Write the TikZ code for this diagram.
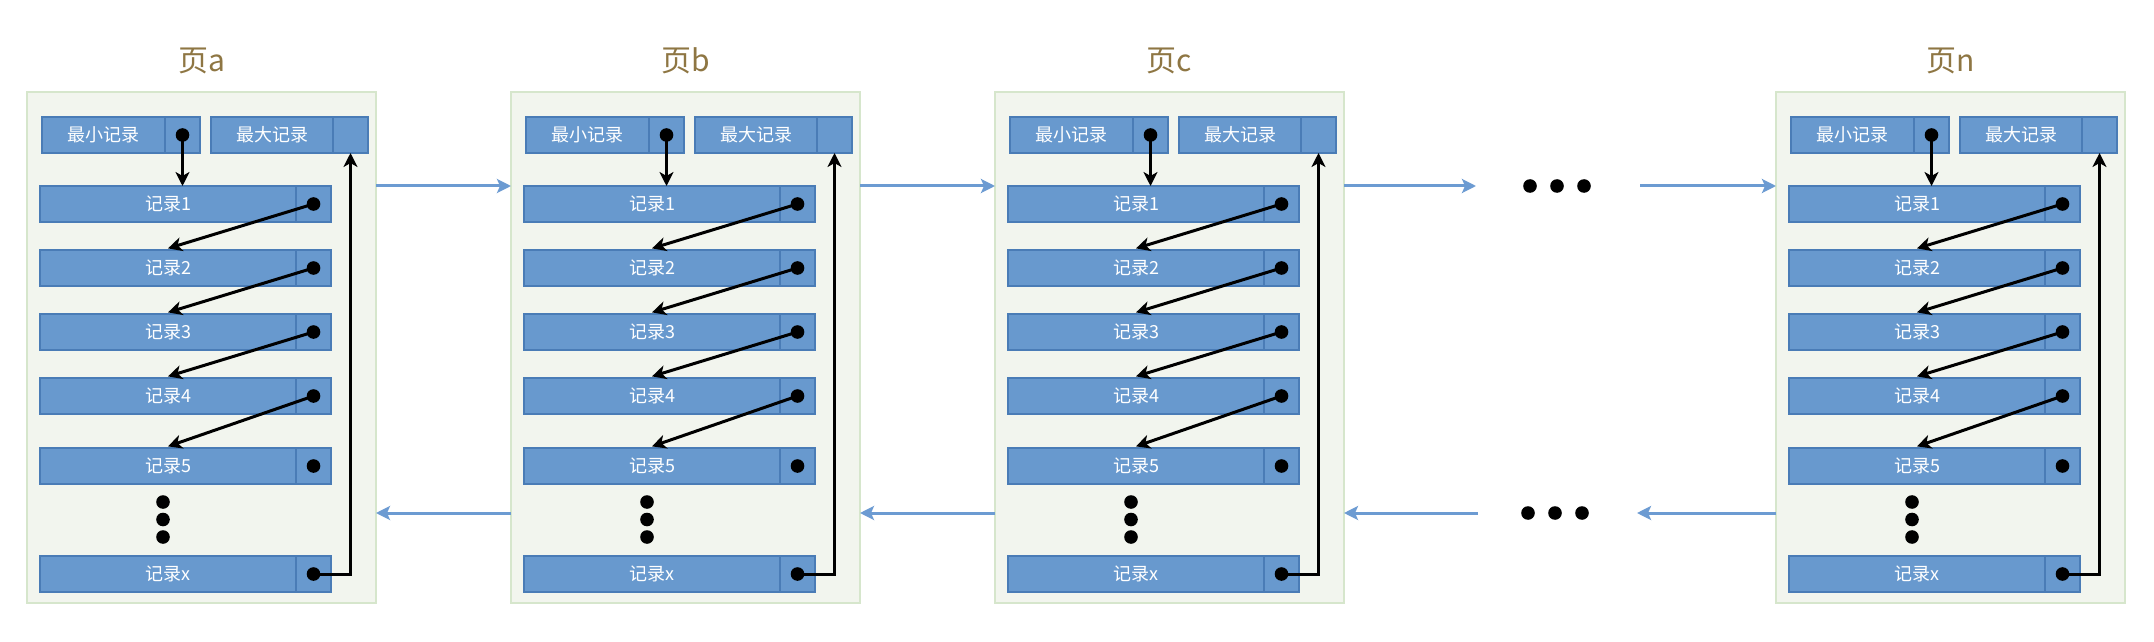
\documentclass[tikz,border=0pt]{standalone}
\usepackage{fontspec}
\newfontfamily\cjk{Noto Sans CJK SC}
\usetikzlibrary{arrows.meta}
\definecolor{pagefill}{HTML}{F2F5EE}
\definecolor{pageborder}{HTML}{D6E6CC}
\definecolor{cellfill}{HTML}{6899CE}
\definecolor{cellborder}{HTML}{4A7CB6}
\definecolor{arrowblue}{HTML}{6C9BD2}
\definecolor{titlecolor}{HTML}{8E7643}
\tikzset{
  pagebox/.style={draw=pageborder, fill=pagefill, line width=1pt, minimum width=174.5pt, minimum height=255.5pt, anchor=north west, inner sep=0pt, outer sep=0pt},
  cellbase/.style={draw=cellborder, fill=cellfill, line width=0.6pt, text=white, font=\cjk\fontsize{9}{10}\selectfont, minimum height=18pt, anchor=north west, inner sep=0pt, outer sep=0pt},
  reccell/.style={cellbase, minimum width=128pt},
  hdcell/.style={cellbase, minimum width=61.5pt},
  ptrcell/.style={cellbase, minimum width=17.5pt},
  ptrdot/.style={circle, fill=black, draw=none, minimum size=6.8pt, inner sep=0pt},
  smalldot/.style={circle, fill=black, draw=none, minimum size=6.8pt, inner sep=0pt},
  link/.style={-{Stealth[length=7pt,width=7pt,inset=2pt]}, line width=1.5pt, black},
  blink/.style={-{Stealth[length=7pt,width=7pt,inset=1.5pt]}, line width=1.5pt, arrowblue},
  pagetitle/.style={font=\cjk\fontsize{15}{17}\selectfont, text=titlecolor, inner sep=0pt}
}
\newcommand{\drawpage}[3]{%
  \node[pagebox] (#1) at (#2,92) {};
  \node[pagetitle] (#1-t) at ({#2+174.5},61) {页#3};
  \node[hdcell] (#1-minL) at ({#2+15},117) {最小记录};
  \node[ptrcell] (#1-minP) at ({#2+138},117) {};
  \node[hdcell, minimum width=61pt] (#1-maxL) at ({#2+184},117) {最大记录};
  \node[ptrcell] (#1-maxP) at ({#2+306},117) {};
  \node[ptrdot] (#1-mind) at (#1-minP.center) {};
  \foreach \i/\y/\lab in {1/186/1, 2/250/2, 3/314/3, 4/378/4, 5/448/5, x/556/x}{
    \node[reccell] (#1-r\i L) at ({#2+13},\y) {记录\lab};
    \node[ptrcell] (#1-r\i P) at ({#2+269},\y) {};
    \node[ptrdot] (#1-r\i d) at (#1-r\i P.center) {};
  }
  \node[smalldot] (#1-v1) at ({#2+136},502) {};
  \node[smalldot] (#1-v2) at ({#2+136},519.5) {};
  \node[smalldot] (#1-v3) at ({#2+136},537) {};
  \draw[link] (#1-mind.center) -- (#1-mind |- #1-r1L.north);
  \foreach \i/\j in {1/2, 2/3, 3/4, 4/5}{
    \draw[link] (#1-r\i d.center) -- ([yshift=0.8pt]#1-r\j L.north);
  }
  \draw[link] (#1-rxd.center) -| (#1-maxP.south);
  \coordinate (#1-hi) at (#2,186);
  \coordinate (#1-lo) at (#2,513);
}
\begin{document}
\begin{tikzpicture}[x=0.5pt,y=-0.5pt]
  \useasboundingbox (0,0) rectangle (2154,642);
  \drawpage{a}{27}{a}
  \drawpage{b}{511}{b}
  \drawpage{c}{995}{c}
  \drawpage{n}{1776}{n}
  % right-going links
  \draw[blink] (a.east |- a-hi) -- (b.west |- b-hi);
  \draw[blink] (b.east |- b-hi) -- (c.west |- c-hi);
  \coordinate (gapR1) at (1476,186);
  \coordinate (gapR2) at (1640,186);
  \draw[blink] (c.east |- c-hi) -- (gapR1);
  \draw[blink] (gapR2) -- (n.west |- n-hi);
  \node[smalldot] (hd1) at (1530,186) {};
  \node[smalldot] (hd2) at (1557,186) {};
  \node[smalldot] (hd3) at (1584,186) {};
  % left-going links
  \draw[blink] (b.west |- b-lo) -- (a.east |- a-lo);
  \draw[blink] (c.west |- c-lo) -- (b.east |- b-lo);
  \coordinate (gapL1) at (1478,513);
  \coordinate (gapL2) at (1637,513);
  \draw[blink] (gapL1) -- (c.east |- c-lo);
  \draw[blink] (n.west |- n-lo) -- (gapL2);
  \node[smalldot] (ld1) at (1528,513) {};
  \node[smalldot] (ld2) at (1555,513) {};
  \node[smalldot] (ld3) at (1582,513) {};
\end{tikzpicture}
\end{document}
